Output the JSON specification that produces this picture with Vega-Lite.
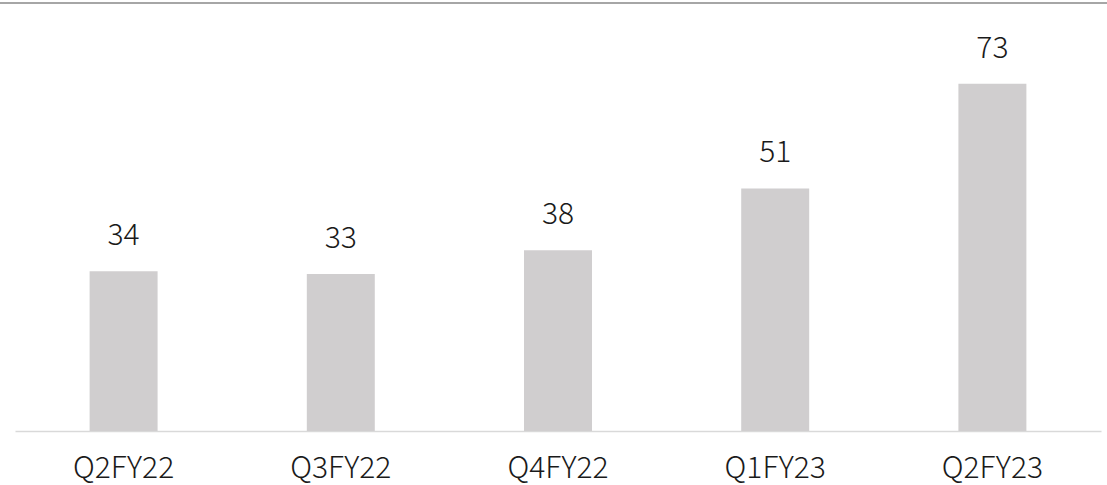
{
  "$schema": "https://vega.github.io/schema/vega-lite/v6.json",
  "width": 1107,
  "height": 428,
  "autosize": {"type": "none"},
  "padding": {"left": 0, "top": 3, "right": 0, "bottom": 54},
  "background": "white",
  "view": {"stroke": null},
  "data": {
    "values": [
      {"quarter": "Q2FY22", "value": 33.6},
      {"quarter": "Q3FY22", "value": 33},
      {"quarter": "Q4FY22", "value": 38},
      {"quarter": "Q1FY23", "value": 51},
      {"quarter": "Q2FY23", "value": 73}
    ]
  },
  "encoding": {
    "x": {
      "field": "quarter",
      "type": "nominal",
      "sort": null,
      "scale": {"range": [15, 1101], "paddingInner": 0.687, "paddingOuter": 0.3435},
      "axis": {
        "title": null,
        "labelAngle": 0,
        "ticks": false,
        "domainColor": "#d9d9d9",
        "domainWidth": 1.5,
        "labelFont": "Noto Sans CJK JP",
        "labelFontWeight": 300,
        "labelFontSize": 30,
        "labelColor": "#1a1a1a",
        "labelPadding": 22
      }
    },
    "y": {
      "field": "value",
      "type": "quantitative",
      "scale": {"domain": [0, 90], "nice": false},
      "axis": null
    }
  },
  "layer": [
    {"mark": {"type": "bar", "color": "#d0cecf"}},
    {
      "mark": {"type": "text", "baseline": "alphabetic", "dy": -26, "font": "Noto Sans CJK JP", "fontWeight": 300, "fontSize": 30, "color": "#1a1a1a"},
      "encoding": {"text": {"field": "value", "type": "quantitative", "format": ".0f"}}
    },
    {
      "data": {"values": [{"top": 90}]},
      "mark": {"type": "rule", "color": "#a6a6a6", "strokeWidth": 2},
      "encoding": {"y": {"field": "top", "type": "quantitative"}, "x": null}
    }
  ]
}
